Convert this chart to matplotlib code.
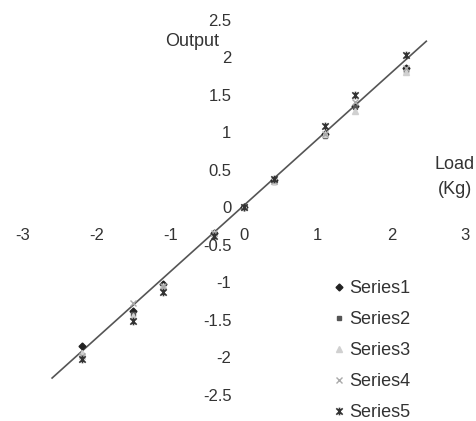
import matplotlib
matplotlib.use("Agg")
import matplotlib.pyplot as plt
from matplotlib.path import Path
import numpy as np

plt.rcParams['font.family'] = ['Liberation Sans', 'DejaVu Sans']

x_vals = [-2.2, -1.5, -1.1, -0.4, 0.0, 0.4, 1.1, 1.5, 2.2]
series1 = [-1.85, -1.38, -1.02, -0.35, 0.0, 0.36, 0.97, 1.35, 1.85]
series2 = [-1.97, -1.42, -1.08, -0.36, 0.0, 0.34, 0.95, 1.33, 1.82]
series3 = [-1.95, -1.45, -1.05, -0.35, 0.0, 0.35, 0.97, 1.28, 1.80]
series4 = [-1.98, -1.28, -1.05, -0.35, 0.0, 0.35, 0.98, 1.40, 1.85]
series5 = [-2.03, -1.52, -1.13, -0.38, 0.0, 0.38, 1.08, 1.49, 2.03]
series_names = ["Series1", "Series2", "Series3", "Series4", "Series5"]

line_x = [-2.60, 2.47]
line_y = [-2.28, 2.21]

xticks = [-3, -2, -1, 0, 1, 2, 3]
yticks = [-2.5, -2, -1.5, -1, -0.5, 0, 0.5, 1, 1.5, 2, 2.5]

star = Path([(-1, -1), (1, 1), (-1, 1), (1, -1), (0, -1.2), (0, 1.2)],
            [Path.MOVETO, Path.LINETO, Path.MOVETO, Path.LINETO, Path.MOVETO, Path.LINETO])

W, H = 477, 421
fig = plt.figure(figsize=(W / 100, H / 100), dpi=100)
ax = fig.add_axes([0, 0, 1, 1])
ax.set_xlim(-3.306, 3.157)
ax.set_ylim(-2.853, 2.76)

ax.plot(line_x, line_y, color='#555555', lw=1.2, zorder=1)

styles = [
    dict(marker='D', color='#222222', ms=3.5, mec='#222222'),
    dict(marker='s', color='#555555', ms=3.5, mec='#555555'),
    dict(marker='^', color='#d0d0d0', ms=4, mec='#d0d0d0'),
    dict(marker='x', color='#aaaaaa', ms=4.5, mew=1.0),
    dict(marker=star, color='#333333', ms=5.5, mew=1.2),
]
data = [series1, series2, series3, series4, series5]
for name, ys, st in zip(series_names, data, styles):
    ax.plot(x_vals, ys, linestyle='none', label=name, zorder=3, **st)

for s in ['left', 'bottom']:
    ax.spines[s].set_position(('data', 0))
    ax.spines[s].set_color('none')
for s in ['top', 'right']:
    ax.spines[s].set_visible(False)

ax.set_xticks(xticks)
ax.set_xticklabels([f"{t:g}" for t in xticks])
ax.set_yticks(yticks)
ax.set_yticklabels([f"{t:g}" for t in yticks])
ax.tick_params(axis='x', length=0, pad=15, labelsize=12, labelcolor='#333333')
ax.tick_params(axis='y', length=0, pad=9, labelsize=12, labelcolor='#333333')

ax.text(192 / W, 1 - 41 / H, "Output", transform=fig.transFigure, fontsize=13,
        color='#333333', ha='center', va='center')
ax.text(455 / W, 1 - 177 / H, "Load\n(Kg)", transform=fig.transFigure, fontsize=13,
        color='#333333', ha='center', va='center', linespacing=1.6)

leg = ax.legend(loc='upper left', bbox_to_anchor=(0.696, 1 - 280 / H),
                bbox_transform=fig.transFigure, frameon=False,
                handlelength=0.8, handletextpad=0.15, labelspacing=0.78,
                borderpad=0, borderaxespad=0, fontsize=13)
for t in leg.get_texts():
    t.set_color('#333333')

fig.savefig("out.png", dpi=100)
